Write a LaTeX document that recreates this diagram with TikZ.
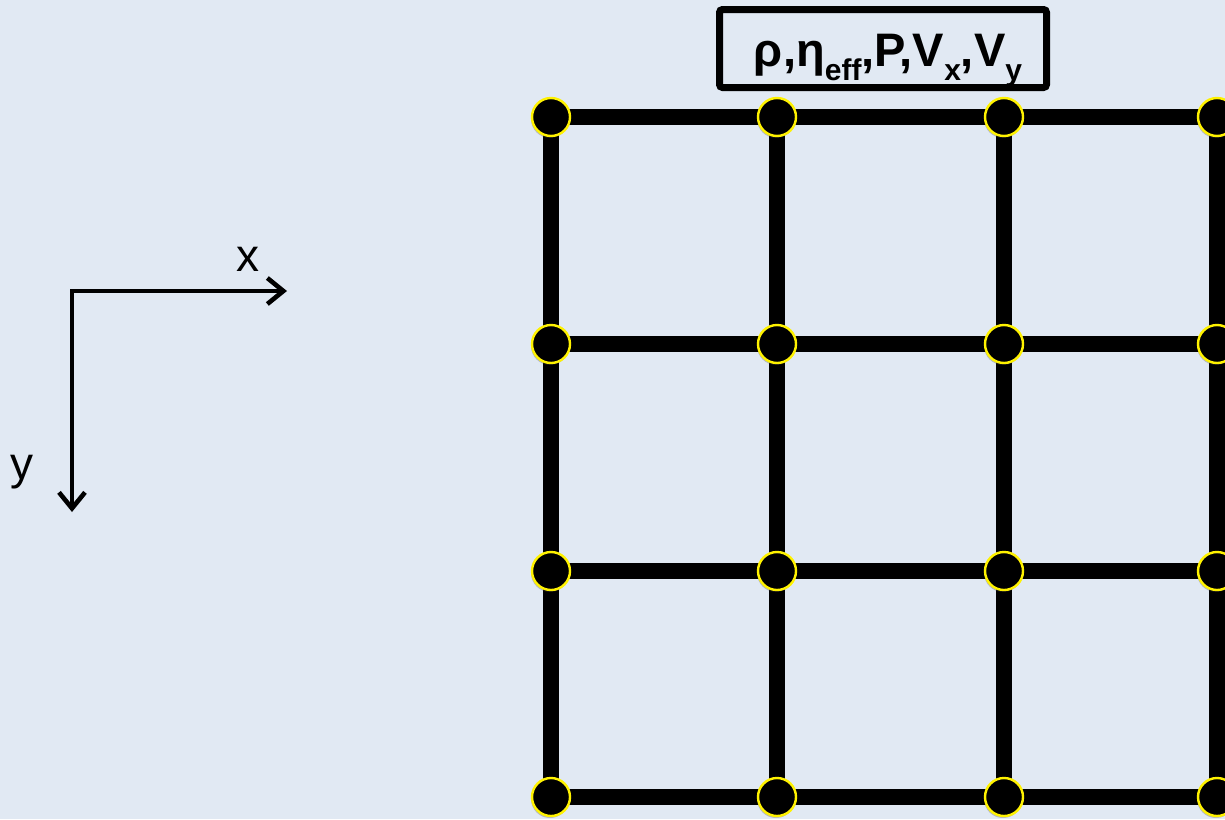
\documentclass[tikz,border=0pt]{standalone}
\usepackage{fontspec}
\setmainfont{Liberation Sans}
\usetikzlibrary{arrows.meta,shadows}
\definecolor{bgc}{HTML}{E1E9F3}
\definecolor{ringc}{HTML}{FFF200}
\pgfdeclarelayer{bg}
\pgfsetlayers{bg,main}
\newcommand{\subtxt}[1]{\raisebox{-0.3em}{\fontsize{30}{30}\selectfont #1}}
\begin{document}
\begin{tikzpicture}[x=1pt,y=-1pt,
  gridpt/.style={circle,fill=black,draw=ringc,line width=2.4pt,minimum size=38pt,inner sep=0pt,
    drop shadow={shadow xshift=-1pt,shadow yshift=-2pt,opacity=0.3,fill=black!70}},
  gridline/.style={line width=16pt,draw=black},
  axis/.style={line width=4.6pt,draw=black,line join=miter},
  axislabel/.style={font=\fontsize{46}{46}\selectfont,inner sep=0pt},
  labelbox/.style={draw=black,line width=7pt,rounded corners=3pt,minimum width=327pt,minimum height=78pt,inner sep=0pt},
  labeltext/.style={font=\bfseries\fontsize{47}{52}\selectfont,inner sep=0pt}]
\useasboundingbox (0,0) rectangle (1225,819);
\clip (0,0) rectangle (1225,819);
% grid points
\foreach \i/\x in {1/551,2/777,3/1004,4/1217}{
  \foreach \j/\y in {1/117,2/344,3/571,4/797}{
    \node[gridpt] (n-\i-\j) at (\x,\y) {};
  }
}
\begin{pgfonlayer}{bg}
  \fill[bgc] (0,0) rectangle (1225,819);
  \foreach \j in {1,2,3,4}{
    \draw[gridline] (n-1-\j.center) -- (n-2-\j.center) -- (n-3-\j.center) -- (n-4-\j.center);
  }
  \foreach \i in {1,2,3,4}{
    \draw[gridline] (n-\i-1.center) -- (n-\i-2.center) -- (n-\i-3.center) -- (n-\i-4.center);
  }
\end{pgfonlayer}
% label box
\node[labelbox] (lbl) at (883,48.5) {};
\node[labeltext,anchor=base] (lbltxt) at (888,66) {ρ,η\subtxt{eff},P,V\subtxt{x},V\subtxt{y}};
% axes
\coordinate (o) at (72,291);
\coordinate (xe) at (287,291);
\coordinate (ye) at (72,512);
\draw[axis,{Straight Barb[length=16pt,width=26pt]}-{Straight Barb[length=16pt,width=26pt]}] (xe) -- (o) -- (ye);
\node[axislabel] (xl) at (248,259) {x};
\node[axislabel] (yl) at (22,472) {y};
\end{tikzpicture}
\end{document}
